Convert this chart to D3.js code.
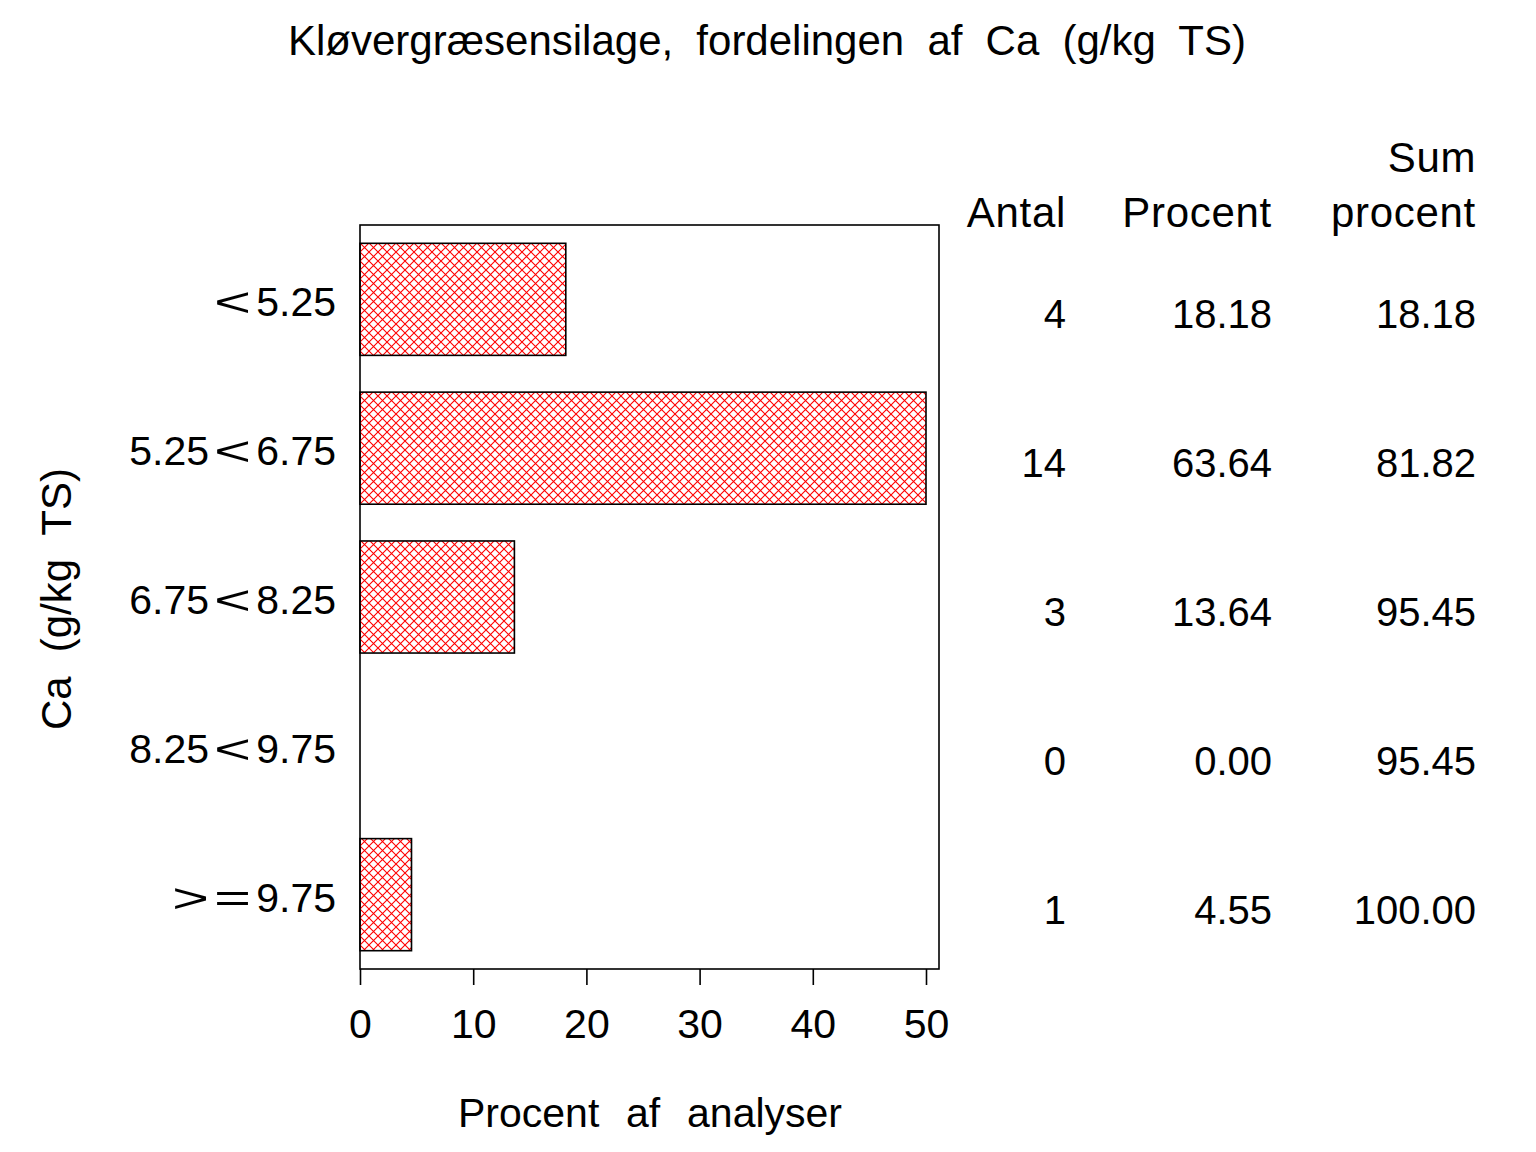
<!DOCTYPE html>
<html><head><meta charset="utf-8">
<script src="https://cdn.jsdelivr.net/npm/d3@7"></script>
<style>body{margin:0;background:#fff}svg{display:block}text{font-family:"Liberation Sans",Arial,sans-serif;fill:#000}</style>
</head><body>
<script>
const titleText = "Kløvergræsensilage, fordelingen af Ca (g/kg TS)";
const categories = ["< 5.25", "5.25<6.75", "6.75<8.25", "8.25<9.75", "> = 9.75"];
const antal = [4, 14, 3, 0, 1];
const procent = [18.18, 63.64, 13.64, 0.00, 4.55];
const sumProcent = [18.18, 81.82, 95.45, 95.45, 100.00];
const xTicks = [0, 10, 20, 30, 40, 50];
const xTitle = "Procent af analyser";
const yTitle = "Ca (g/kg TS)";
const colHeaders = [["", "Antal"], ["", "Procent"], ["Sum", "procent"]];

const W = 1536, H = 1152;
const svg = d3.select("body").append("svg").attr("width", W).attr("height", H);
const defs = svg.append("defs");
const pat = defs.append("pattern").attr("id", "hatch").attr("patternUnits", "userSpaceOnUse")
  .attr("width", 9).attr("height", 9).attr("x", 360).attr("y", 243);
pat.append("path").attr("d", "M0,0L9,9M9,0L0,9")
  .attr("stroke", "#ff0000").attr("stroke-width", 1.1).attr("fill", "none");

const pLeft = 360, pRight = 939, pTop = 225, pBottom = 969;
const x = d3.scaleLinear().domain([0, 50]).range([360, 926]);
const y = d3.scaleBand().domain(categories).range([pTop, pBottom]).paddingInner(0.247).paddingOuter(0.123);

// fit multiword text to a target width by adjusting word spacing
function fitWords(sel, target) {
  const n = (sel.text().match(/ /g) || []).length;
  const len = sel.node().getComputedTextLength();
  if (n > 0) sel.attr("word-spacing", (target - len) / n);
  return sel;
}

// title
fitWords(svg.append("text").attr("x", 767).attr("y", 55).attr("text-anchor", "middle")
  .attr("font-size", 42).text(titleText), 958);

// frame
svg.append("rect").attr("x", pLeft).attr("y", pTop).attr("width", pRight - pLeft).attr("height", pBottom - pTop)
  .attr("fill", "none").attr("stroke", "#000").attr("stroke-width", 1.6);

// bars
svg.append("g").selectAll("rect").data(categories.map((c, i) => ({c, v: procent[i]})).filter(d => d.v > 0))
  .join("rect")
  .attr("x", x(0)).attr("y", d => y(d.c))
  .attr("width", d => x(Math.min(d.v, 50)) - x(0)).attr("height", y.bandwidth())
  .attr("fill", "url(#hatch)").attr("stroke", "#000").attr("stroke-width", 1.6);

// x axis
const xa = svg.append("g").attr("transform", `translate(0,${pBottom})`)
  .call(d3.axisBottom(x).tickValues(xTicks).tickSize(16).tickPadding(24).tickFormat(d3.format("d")));
xa.select(".domain").remove();
xa.selectAll("line").attr("stroke", "#000").attr("stroke-width", 1.6);
xa.selectAll("text").attr("font-size", 41).attr("font-family", '"Liberation Sans",Arial,sans-serif').attr("fill", "#000");

// y labels: relational operators drawn wider, like the original font
const opScale = 1.55;
function drawLabel(g, label, xRight, yBase) {
  const toks = [];
  const re = /(\s*)([<>=]|[^<>=\s]+)/g;
  let m;
  while ((m = re.exec(label)) !== null) toks.push({t: m[2], op: /[<>=]/.test(m[2])});
  toks.forEach(tk => {
    tk.el = g.append("text").attr("font-size", 41).text(tk.t);
    tk.w = tk.el.node().getComputedTextLength() * (tk.op ? opScale : 1);
  });
  let cx = xRight;
  for (let i = toks.length - 1; i >= 0; i--) {
    const tk = toks[i];
    cx -= tk.w;
    tk.el.attr("transform", `translate(${cx},${yBase})` + (tk.op ? ` scale(${opScale},1)` : ""));
    if (i > 0) cx -= 5;
  }
}
const yl = svg.append("g");
categories.forEach(c => drawLabel(yl, c, 336, y(c) + y.bandwidth() / 2 + 17));

// axis titles
fitWords(svg.append("text").attr("x", 650).attr("y", 1127).attr("text-anchor", "middle")
  .attr("font-size", 41).text(xTitle), 384);
fitWords(svg.append("text").attr("transform", "translate(71,599) rotate(-90)").attr("text-anchor", "middle")
  .attr("font-size", 42).text(yTitle), 262);

// table
const colX = [1066, 1272, 1476];
const cols = [antal.map(d => String(d)), procent.map(d => d.toFixed(2)), sumProcent.map(d => d.toFixed(2))];
colHeaders.forEach((h, j) => {
  svg.append("text").attr("x", colX[j]).attr("y", 172).attr("text-anchor", "end").attr("font-size", 42)
    .attr("letter-spacing", 0.6).text(h[0]);
  svg.append("text").attr("x", colX[j]).attr("y", 227).attr("text-anchor", "end").attr("font-size", 42)
    .attr("letter-spacing", 0.7).text(h[1]);
  svg.append("g").selectAll("text").data(cols[j]).join("text")
    .attr("x", colX[j]).attr("y", (d, i) => y(categories[i]) + y.bandwidth() / 2 + 29)
    .attr("text-anchor", "end").attr("font-size", 40).text(d => d);
});
</script>
</body></html>
